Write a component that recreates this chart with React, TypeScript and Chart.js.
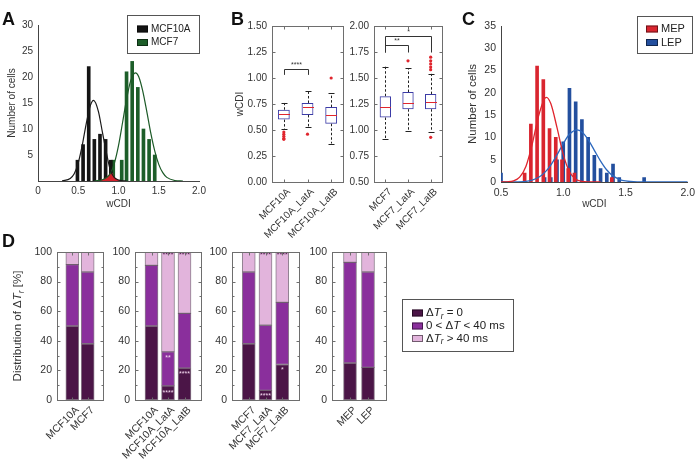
import React, { useEffect, useRef } from 'react';
import { Chart, registerables } from 'chart.js';

Chart.register(...registerables);

const FONT = '"Liberation Sans", Arial, Helvetica, sans-serif';
const INK = '#333333';
const FRAME = '#6e6e6e';

// ===== Panel A : wCDI histograms MCF10A / MCF7 =====
const aBinsMCF10A = [0.49, 0.56, 0.63, 0.70, 0.77, 0.84, 0.905];
const aCountsMCF10A = [4, 7, 22, 8, 9, 8, 4];
const aBinsMCF7 = [0.935, 1.04, 1.10, 1.17, 1.24, 1.31, 1.38, 1.45];
const aCountsMCF7 = [4, 4, 21, 23, 18, 10, 8, 5];
const aFitXMCF10A = [0.30, 0.40, 0.45, 0.50, 0.55, 0.60, 0.65, 0.69, 0.75, 0.80, 0.85, 0.90, 0.95, 1.00, 1.05, 1.10];
const aFitYMCF10A = [0.03, 0.5, 1.4, 3.5, 6.9, 11.1, 14.5, 15.5, 13.4, 9.4, 5.4, 2.0, 0.65, 0.2, 0.05, 0.0];
const aFitXMCF7 = [0.70, 0.80, 0.85, 0.90, 0.95, 1.00, 1.05, 1.10, 1.15, 1.21, 1.25, 1.30, 1.35, 1.40, 1.45, 1.50, 1.55, 1.60, 1.70, 1.80];
const aFitYMCF7 = [0.02, 0.25, 0.65, 1.5, 3.5, 6.8, 11.2, 15.7, 19.2, 20.8, 20.1, 17.4, 13.5, 9.3, 5.8, 3.2, 1.6, 0.7, 0.1, 0.0];
const aOverlapX = [0.76, 0.80, 0.85, 0.90, 0.915, 0.95, 1.00, 1.05];
const aOverlapY = [0.0, 0.25, 0.65, 1.5, 1.6, 0.65, 0.2, 0.0];
const aLegend = ['MCF10A', 'MCF7'];

// ===== Panel B : box plots =====
const bLeftCats = ['MCF10A', 'MCF10A_LatA', 'MCF10A_LatB'];
const bLeftMin = [0.51, 0.53, 0.37];
const bLeftQ1 = [0.60, 0.645, 0.56];
const bLeftMed = [0.65, 0.72, 0.645];
const bLeftQ3 = [0.695, 0.76, 0.72];
const bLeftMax = [0.76, 0.875, 0.855];
const bLeftOut = [[0.48, 0.46, 0.44, 0.42, 0.41], [0.46], [1.0]];
const bLeftSig = [{ from: 0, to: 1, top: 1.09, leg: 1.03, label: '****' }];

const bRightCats = ['MCF7', 'MCF7_LatA', 'MCF7_LatB'];
const bRightMin = [0.91, 0.99, 0.985];
const bRightQ1 = [1.12, 1.20, 1.20];
const bRightMed = [1.22, 1.26, 1.265];
const bRightQ3 = [1.325, 1.365, 1.345];
const bRightMax = [1.61, 1.595, 1.54];
const bRightOut = [[], [1.665], [1.70, 1.665, 1.635, 1.605, 1.58, 0.93]];
const bRightSig = [
  { from: 0, to: 1, top: 1.82, leg: 1.745, label: '**' },
  { from: 0, to: 2, top: 1.90, leg: 1.745, label: '*' },
];

// ===== Panel C : MEP / LEP histograms =====
const cBinsMEP = [0.69, 0.74, 0.79, 0.84, 0.89, 0.94, 0.99, 1.04, 1.09, 1.39];
const cCountsMEP = [2, 13, 26, 23, 12, 10, 5, 3, 2, 1];
const cBinsLEP = [0.50, 0.85, 0.90, 0.95, 1.00, 1.05, 1.10, 1.15, 1.20, 1.25, 1.30, 1.35, 1.40, 1.45, 1.65];
const cCountsLEP = [2, 1, 1, 5, 9, 21, 18, 14, 10, 6, 3, 2, 4, 1, 1];
const cFitXMEP = [0.50, 0.55, 0.60, 0.65, 0.70, 0.75, 0.80, 0.85, 0.865, 0.90, 0.95, 1.00, 1.05, 1.10, 1.15, 1.20, 1.30];
const cFitYMEP = [0.0, 0.04, 0.25, 1.1, 3.5, 8.4, 14.6, 18.7, 19.0, 17.6, 12.2, 6.2, 2.3, 0.63, 0.13, 0.02, 0.0];
const cFitXLEP = [0.50, 0.60, 0.70, 0.75, 0.80, 0.85, 0.90, 0.95, 1.00, 1.05, 1.11, 1.15, 1.20, 1.25, 1.30, 1.35, 1.40, 1.45, 1.50, 1.60, 1.70, 2.00];
const cFitYLEP = [0.0, 0.02, 0.16, 0.43, 1.0, 2.1, 3.8, 6.1, 8.6, 10.7, 11.7, 11.2, 9.5, 7.1, 4.7, 2.7, 1.37, 0.61, 0.24, 0.03, 0.0, 0.0];
const cLegend = ['MEP', 'LEP'];

// ===== Panel D : distribution of dwell-time differences (stacked %) =====
const dCats1 = ['MCF10A', 'MCF7'];
const dZero1 = [50, 38];
const dMid1 = [41.5, 48.5];
const dHigh1 = [8.5, 13.5];
const dCats2 = ['MCF10A', 'MCF10A_LatA', 'MCF10A_LatB'];
const dZero2 = [50, 9.5, 21.5];
const dMid2 = [41, 23, 37];
const dHigh2 = [9, 67.5, 41.5];
const dCats3 = ['MCF7', 'MCF7_LatA', 'MCF7_LatB'];
const dZero3 = [38, 6.5, 24];
const dMid3 = [48.5, 44, 42];
const dHigh3 = [13.5, 49.5, 34];
const dCats4 = ['MEP', 'LEP'];
const dZero4 = [25, 22];
const dMid4 = [68, 64.5];
const dHigh4 = [7, 13.5];
const dStars2 = [
  { cat: 2, y: 98.3, t: '****', light: false },
  { cat: 3, y: 98.3, t: '****', light: false },
  { cat: 2, y: 29, t: '**', light: true },
  { cat: 2, y: 5.5, t: '****', light: true },
  { cat: 3, y: 18, t: '****', light: true },
];
const dStars3 = [
  { cat: 2, y: 98.3, t: '****', light: false },
  { cat: 3, y: 98.3, t: '****', light: false },
  { cat: 2, y: 3.5, t: '****', light: true },
  { cat: 3, y: 21, t: '*', light: true },
];

const DARK = '#4b1547';
const MID = '#8a2f9c';
const LIGHT = '#e2b4dc';

type Part = { t: string; it?: boolean; sub?: boolean };
const dLegendLabels: Part[][] = [
  [{ t: 'Δ' }, { t: 'T', it: true }, { t: 'r', it: true, sub: true }, { t: ' = 0' }],
  [{ t: '0 < Δ' }, { t: 'T', it: true }, { t: ' < 40 ms' }],
  [{ t: 'Δ' }, { t: 'T', it: true }, { t: 'r', it: true, sub: true }, { t: ' > 40 ms' }],
];
const dYTitle: Part[] = [{ t: 'Distribution of Δ' }, { t: 'T', it: true }, { t: 'r', it: true, sub: true }, { t: ' [%]' }];

// ---------- helpers ----------
function partFont(p: Part, size: number) {
  const s = p.sub ? size * 0.72 : size;
  return `${p.it ? 'italic ' : ''}${s}px ${FONT}`;
}
function richWidth(ctx: CanvasRenderingContext2D, parts: Part[], size: number) {
  let w = 0;
  parts.forEach((p) => { ctx.font = partFont(p, size); w += ctx.measureText(p.t).width; });
  return w;
}
function drawRich(ctx: CanvasRenderingContext2D, parts: Part[], x: number, y: number, size: number) {
  let cx = x;
  parts.forEach((p) => {
    ctx.font = partFont(p, size);
    ctx.fillText(p.t, cx, p.sub ? y + size * 0.3 : y);
    cx += ctx.measureText(p.t).width;
  });
}

const pts = (xs: number[], ys: number[]) => xs.map((x, i) => ({ x, y: ys[i] }));

function legendPlugin(id: string, box: { x: number; y: number; w: number; h: number }, rows: { label: Part[]; color: string }[], sw: { x: number; w: number; h: number }, rowY: number[], textX: number, size: number) {
  return {
    id,
    afterDraw(chart: any) {
      const ctx: CanvasRenderingContext2D = chart.ctx;
      ctx.save();
      ctx.fillStyle = '#fff';
      ctx.fillRect(box.x, box.y, box.w, box.h);
      ctx.strokeStyle = '#555';
      ctx.lineWidth = 1;
      ctx.strokeRect(box.x + 0.5, box.y + 0.5, box.w, box.h);
      rows.forEach((r, i) => {
        ctx.fillStyle = r.color;
        ctx.fillRect(sw.x, rowY[i] - sw.h / 2, sw.w, sw.h);
        ctx.strokeStyle = 'rgba(0,0,0,0.5)';
        ctx.strokeRect(sw.x + 0.5, rowY[i] - sw.h / 2 + 0.5, sw.w - 1, sw.h - 1);
        ctx.fillStyle = '#222';
        ctx.textBaseline = 'middle';
        ctx.textAlign = 'left';
        drawRich(ctx, r.label, textX, rowY[i], size);
      });
      ctx.restore();
    },
  };
}

function framePlugin(minorY?: number) {
  return {
    id: 'frame',
    afterDraw(chart: any) {
      const { ctx, chartArea: a, scales } = chart;
      const line = (x1: number, y1: number, x2: number, y2: number) => {
        ctx.beginPath(); ctx.moveTo(x1, y1); ctx.lineTo(x2, y2); ctx.stroke();
      };
      ctx.save();
      ctx.strokeStyle = FRAME;
      ctx.lineWidth = 1;
      const L = Math.round(a.left) + 0.5, R = Math.round(a.right) + 0.5;
      const T = Math.round(a.top) + 0.5, B = Math.round(a.bottom) + 0.5;
      ctx.strokeRect(L, T, R - L, B - T);
      const ys = scales.y;
      const tickY = (v: number, len: number) => {
        const p = Math.round(ys.getPixelForValue(v)) + 0.5;
        line(L, p, L + len, p); line(R, p, R - len, p);
      };
      ys.ticks.forEach((t: any) => tickY(t.value, 3));
      if (minorY) for (let v = ys.min; v <= ys.max + 1e-9; v += minorY) tickY(v, 2);
      const xs = scales.x;
      xs.ticks.forEach((_t: any, i: number) => {
        const p = Math.round(xs.getPixelForTick(i)) + 0.5;
        line(p, T, p, T + 3); line(p, B, p, B - 3);
      });
      ctx.restore();
    },
  };
}

type Sig = { from: number; to: number; top: number; leg: number; label: string };
function boxPlugin(mins: number[], meds: number[], maxs: number[], q1: number[], q3: number[], sigs: Sig[]) {
  return {
    id: 'boxes',
    afterDatasetsDraw(chart: any) {
      const { ctx, scales: { x, y } } = chart;
      const line = (x1: number, y1: number, x2: number, y2: number) => {
        ctx.beginPath(); ctx.moveTo(x1, y1); ctx.lineTo(x2, y2); ctx.stroke();
      };
      ctx.save();
      ctx.lineWidth = 1;
      meds.forEach((m, i) => {
        const cx = Math.round(x.getPixelForValue(i)) + 0.5;
        ctx.strokeStyle = '#222';
        ctx.setLineDash([2.5, 2]);
        line(cx, y.getPixelForValue(q3[i]), cx, y.getPixelForValue(maxs[i]));
        line(cx, y.getPixelForValue(q1[i]), cx, y.getPixelForValue(mins[i]));
        ctx.setLineDash([]);
        const ymx = Math.round(y.getPixelForValue(maxs[i])) + 0.5;
        const ymn = Math.round(y.getPixelForValue(mins[i])) + 0.5;
        line(cx - 3, ymx, cx + 3, ymx);
        line(cx - 3, ymn, cx + 3, ymn);
        ctx.strokeStyle = '#e0262e';
        const ym = Math.round(y.getPixelForValue(m)) + 0.5;
        line(cx - 5.5, ym, cx + 5.5, ym);
      });
      ctx.strokeStyle = '#333';
      ctx.fillStyle = '#333';
      sigs.forEach((s) => {
        const x1 = Math.round(x.getPixelForValue(s.from)) + 0.5;
        const x2 = Math.round(x.getPixelForValue(s.to)) + 0.5;
        const yt = Math.round(y.getPixelForValue(s.top)) + 0.5;
        const yl = y.getPixelForValue(s.leg);
        ctx.beginPath(); ctx.moveTo(x1, yl); ctx.lineTo(x1, yt); ctx.lineTo(x2, yt); ctx.lineTo(x2, yl); ctx.stroke();
        ctx.font = `7px ${FONT}`;
        ctx.textAlign = 'center';
        ctx.textBaseline = 'bottom';
        ctx.fillText(s.label, (x1 + x2) / 2, yt - 1);
      });
      ctx.restore();
    },
  };
}

function starsPlugin(stars: { cat: number; y: number; t: string; light: boolean }[]) {
  return {
    id: 'stars',
    afterDatasetsDraw(chart: any) {
      const { ctx, scales: { x, y } } = chart;
      ctx.save();
      ctx.font = `7px ${FONT}`;
      ctx.textAlign = 'center';
      ctx.textBaseline = 'middle';
      stars.forEach((s) => {
        ctx.fillStyle = s.light ? '#f4d8f0' : DARK;
        ctx.fillText(s.t, x.getPixelForValue(s.cat), y.getPixelForValue(s.y) + 1);
      });
      ctx.restore();
    },
  };
}

function yTitlePlugin(parts: Part[], cx: number, size: number) {
  return {
    id: 'ytitle',
    afterDraw(chart: any) {
      const { ctx, chartArea: a } = chart;
      ctx.save();
      ctx.translate(cx, (a.top + a.bottom) / 2);
      ctx.rotate(-Math.PI / 2);
      ctx.fillStyle = INK;
      ctx.textBaseline = 'middle';
      ctx.textAlign = 'left';
      const w = richWidth(ctx, parts, size);
      drawRich(ctx, parts, -w / 2, 0, size);
      ctx.restore();
    },
  };
}

const baseOpts = {
  responsive: false,
  animation: false,
  devicePixelRatio: 1,
  events: [],
};

// ---------- chart builders ----------
function makeA() {
  return {
    type: 'bar',
    data: {
      datasets: [
        { type: 'line', data: pts(aFitXMCF10A, aFitYMCF10A), borderColor: '#1a1a1a', borderWidth: 1.2, pointRadius: 0, fill: false, cubicInterpolationMode: 'monotone', order: 0 },
        { type: 'line', data: pts(aFitXMCF7, aFitYMCF7), borderColor: '#1c5a27', borderWidth: 1.2, pointRadius: 0, fill: false, cubicInterpolationMode: 'monotone', order: 0 },
        { type: 'line', data: pts(aOverlapX, aOverlapY), borderColor: '#d3202a', backgroundColor: '#d3202a', borderWidth: 0.5, pointRadius: 0, fill: 'origin', cubicInterpolationMode: 'monotone', order: 1 },
        { type: 'bar', data: pts(aBinsMCF10A, aCountsMCF10A), backgroundColor: '#141414', barThickness: 3, grouped: false, order: 2 },
        { type: 'bar', data: pts(aBinsMCF7, aCountsMCF7), backgroundColor: '#1d5e29', barThickness: 3, grouped: false, order: 2 },
      ],
    },
    options: {
      ...baseOpts,
      layout: { padding: { left: 0, top: 25, right: 31, bottom: 0 } },
      plugins: { legend: { display: false }, tooltip: { enabled: false } },
      scales: {
        x: {
          type: 'linear', min: 0, max: 2, offset: false,
          grid: { display: false, drawTicks: false, offset: false },
          border: { display: true, color: '#444', width: 1 },
          ticks: { stepSize: 0.5, padding: 4, color: INK, font: { size: 10, family: FONT }, callback: (v: any) => (v === 0 ? '0' : Number(v).toFixed(1)) },
          title: { display: true, text: 'wCDI', color: INK, font: { size: 10, family: FONT }, padding: { top: 0, bottom: 5 } },
          afterFit: (s: any) => { s.height = 34; },
        },
        y: {
          min: 0, max: 30,
          grid: { display: false, drawTicks: false },
          border: { display: true, color: '#444', width: 1 },
          ticks: { stepSize: 5, padding: 5, color: INK, font: { size: 10, family: FONT }, callback: (v: any) => (v === 0 ? '' : String(v)) },
          title: { display: true, text: 'Number of cells', color: INK, font: { size: 10, family: FONT }, padding: { top: 6, bottom: 0 } },
          afterFit: (s: any) => { s.width = 38; },
        },
      },
    },
    plugins: [
      legendPlugin('legA', { x: 127, y: 15, w: 72, h: 38 }, [
        { label: [{ t: aLegend[0] }], color: '#141414' },
        { label: [{ t: aLegend[1] }], color: '#1d5e29' },
      ], { x: 137, w: 11, h: 7 }, [29, 42.5], 151, 10),
    ],
  };
}

function makeC() {
  return {
    type: 'bar',
    data: {
      datasets: [
        { type: 'line', data: pts(cFitXMEP, cFitYMEP), borderColor: '#e0242c', borderWidth: 1.3, pointRadius: 0, fill: false, cubicInterpolationMode: 'monotone', order: 0 },
        { type: 'line', data: pts(cFitXLEP, cFitYLEP), borderColor: '#2c68be', borderWidth: 1.3, pointRadius: 0, fill: false, cubicInterpolationMode: 'monotone', order: 0 },
        { type: 'bar', data: pts(cBinsMEP, cCountsMEP), backgroundColor: '#d9252f', barThickness: 3, grouped: false, order: 2 },
        { type: 'bar', data: pts(cBinsLEP, cCountsLEP), backgroundColor: '#234f9e', barThickness: 3, grouped: false, order: 2 },
      ],
    },
    options: {
      ...baseOpts,
      layout: { padding: { left: 0, top: 26, right: 8, bottom: 0 } },
      plugins: { legend: { display: false }, tooltip: { enabled: false } },
      scales: {
        x: {
          type: 'linear', min: 0.5, max: 2, offset: false,
          grid: { display: false, drawTicks: false, offset: false },
          border: { display: true, color: '#444', width: 1 },
          ticks: { stepSize: 0.5, padding: 5, color: INK, font: { size: 10.5, family: FONT }, callback: (v: any) => Number(v).toFixed(1) },
          title: { display: true, text: 'wCDI', color: INK, font: { size: 10, family: FONT }, padding: { top: 0, bottom: 5 } },
          afterFit: (s: any) => { s.height = 33; },
        },
        y: {
          min: 0, max: 35,
          grid: { display: false, drawTicks: false },
          border: { display: true, color: '#444', width: 1 },
          ticks: { stepSize: 5, padding: 5, color: INK, font: { size: 10.5, family: FONT } },
          title: { display: true, text: 'Number of cells', color: INK, font: { size: 11.5, family: FONT }, padding: { top: 6, bottom: 0 } },
          afterFit: (s: any) => { s.width = 41; },
        },
      },
    },
    plugins: [
      legendPlugin('legC', { x: 177, y: 16, w: 55, h: 37 }, [
        { label: [{ t: cLegend[0] }], color: '#d9252f' },
        { label: [{ t: cLegend[1] }], color: '#234f9e' },
      ], { x: 186, w: 12, h: 7 }, [29, 42.5], 201, 11),
    ],
  };
}

function makeB(cats: string[], mins: number[], q1: number[], med: number[], q3: number[], maxs: number[], outs: number[][], sigs: Sig[], yMin: number, yMax: number, yWidth: number, padRight: number, withTitle: boolean) {
  const outlierPts: { x: string; y: number }[] = [];
  outs.forEach((arr, i) => arr.forEach((v) => outlierPts.push({ x: cats[i], y: v })));
  return {
    type: 'bar',
    data: {
      labels: cats,
      datasets: [
        { type: 'bar', data: q1.map((v, i) => [v, q3[i]]), backgroundColor: 'rgba(255,255,255,0)', borderColor: '#3b3ba6', borderWidth: 1, borderSkipped: false, barPercentage: 0.5, categoryPercentage: 1, order: 1 },
        { type: 'line', data: outlierPts, showLine: false, pointRadius: 1.6, pointBackgroundColor: '#e0262e', pointBorderColor: '#e0262e', pointBorderWidth: 0, order: 0 },
      ],
    },
    options: {
      ...baseOpts,
      layout: { padding: { left: 0, top: 26, right: padRight, bottom: 0 } },
      plugins: { legend: { display: false }, tooltip: { enabled: false } },
      scales: {
        x: {
          grid: { display: false, drawTicks: false },
          border: { display: false },
          ticks: { padding: 4, labelOffset: 5, autoSkip: false, minRotation: 45, maxRotation: 45, color: INK, font: { size: 10, family: FONT } },
          afterFit: (s: any) => { s.height = 63; },
        },
        y: {
          min: yMin, max: yMax,
          grid: { display: false, drawTicks: false },
          border: { display: false },
          ticks: { stepSize: 0.25, padding: 5, color: INK, font: { size: 10, family: FONT }, callback: (v: any) => Number(v).toFixed(2) },
          title: { display: withTitle, text: 'wCDI', color: INK, font: { size: 10, family: FONT }, padding: { top: 4, bottom: 0 } },
          afterFit: (s: any) => { s.width = yWidth; },
        },
      },
    },
    plugins: [framePlugin(), boxPlugin(mins, med, maxs, q1, q3, sigs)],
  };
}

function makeD(cats: string[], zero: number[], mid: number[], high: number[], yWidth: number, padRight: number, extra: any[]) {
  const xs = cats.map((_, i) => i + 1);
  const ds = (vals: number[], color: string) => ({
    data: pts(xs, vals), backgroundColor: color, borderColor: 'rgba(45,20,45,0.55)', borderWidth: 1, borderSkipped: false, barThickness: 13,
  });
  return {
    type: 'bar',
    data: { datasets: [ds(zero, DARK), ds(mid, MID), ds(high, LIGHT)] },
    options: {
      ...baseOpts,
      layout: { padding: { left: 0, top: 12, right: padRight, bottom: 0 } },
      plugins: { legend: { display: false }, tooltip: { enabled: false } },
      scales: {
        x: {
          type: 'linear', min: 0, max: cats.length + 1, stacked: true, offset: false,
          grid: { display: false, drawTicks: false, offset: false },
          border: { display: false },
          afterBuildTicks: (s: any) => { s.ticks = cats.map((_, i) => ({ value: i + 1 })); },
          ticks: { padding: 4, labelOffset: 5, autoSkip: false, minRotation: 45, maxRotation: 45, color: INK, font: { size: 10.5, family: FONT }, callback: (v: any) => cats[Math.round(v) - 1] ?? '' },
          afterFit: (s: any) => { s.height = 74; },
        },
        y: {
          min: 0, max: 100, stacked: true,
          grid: { display: false, drawTicks: false },
          border: { display: false },
          ticks: { stepSize: 20, padding: 5, color: INK, font: { size: 10.5, family: FONT } },
          afterFit: (s: any) => { s.width = yWidth; },
        },
      },
    },
    plugins: [framePlugin(10), ...extra],
  };
}

function ChartCanvas({ x, y, w, h, make }: { x: number; y: number; w: number; h: number; make: () => any }) {
  const ref = useRef<HTMLCanvasElement>(null);
  useEffect(() => {
    const chart = new Chart(ref.current as HTMLCanvasElement, make());
    return () => chart.destroy();
  }, []);
  return <canvas ref={ref} width={w} height={h} style={{ position: 'absolute', left: x, top: y, width: w, height: h }} />;
}

const letter = (x: number, y: number): React.CSSProperties => ({
  position: 'absolute', left: x, top: y, fontFamily: FONT, fontWeight: 'bold', fontSize: 18, lineHeight: '18px', color: '#111',
});

export default function App() {
  Chart.defaults.font.family = FONT;
  return (
    <div style={{ position: 'absolute', left: 0, top: 0, width: 700, height: 474, background: '#fff', overflow: 'hidden' }}>
      <ChartCanvas x={0} y={0} w={230} h={215} make={makeA} />
      <ChartCanvas x={230} y={0} w={120} h={245} make={() => makeB(bLeftCats, bLeftMin, bLeftQ1, bLeftMed, bLeftQ3, bLeftMax, bLeftOut, bLeftSig, 0, 1.5, 42, 7, true)} />
      <ChartCanvas x={345} y={0} w={110} h={245} make={() => makeB(bRightCats, bRightMin, bRightQ1, bRightMed, bRightQ3, bRightMax, bRightOut, bRightSig, 0.5, 2.0, 29, 13, false)} />
      <ChartCanvas x={460} y={0} w={240} h={215} make={makeC} />
      <ChartCanvas x={0} y={240} w={110} h={234} make={() => makeD(dCats1, dZero1, dMid1, dHigh1, 57, 7, [yTitlePlugin(dYTitle, 18, 11.5)])} />
      <ChartCanvas x={105} y={240} w={105} h={234} make={() => makeD(dCats2, dZero2, dMid2, dHigh2, 30, 9, [starsPlugin(dStars2)])} />
      <ChartCanvas x={203} y={240} w={102} h={234} make={() => makeD(dCats3, dZero3, dMid3, dHigh3, 29, 6, [starsPlugin(dStars3)])} />
      <ChartCanvas x={303} y={240} w={217} h={234} make={() => makeD(dCats4, dZero4, dMid4, dHigh4, 29, 134, [
        legendPlugin('legD', { x: 99, y: 59, w: 111, h: 52 }, [
          { label: dLegendLabels[0], color: DARK },
          { label: dLegendLabels[1], color: MID },
          { label: dLegendLabels[2], color: LIGHT },
        ], { x: 109, w: 11, h: 7 }, [73, 86, 98.5], 123, 11.5),
      ])} />
      <div style={letter(2, 10)}>A</div>
      <div style={letter(231, 10)}>B</div>
      <div style={letter(462, 10)}>C</div>
      <div style={letter(2, 232)}>D</div>
    </div>
  );
}
